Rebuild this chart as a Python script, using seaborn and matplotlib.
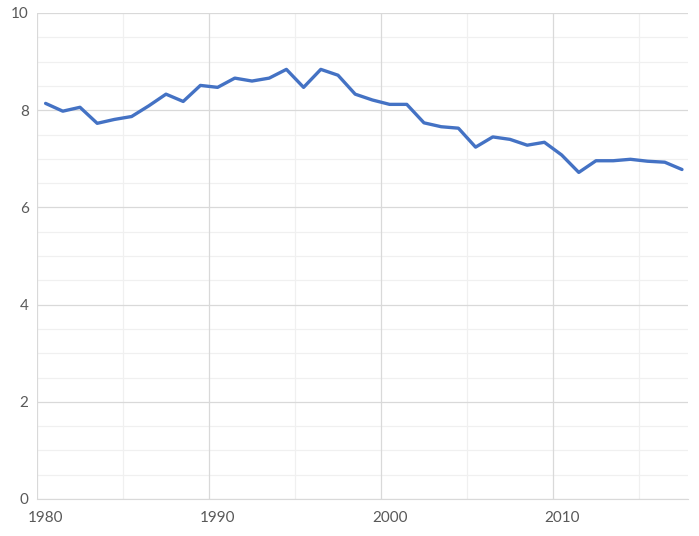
import numpy as np
import pandas as pd
import matplotlib.pyplot as plt
import seaborn as sns
from matplotlib.ticker import MultipleLocator, FixedLocator

# datos
anios = list(range(1980, 2018))
valores = [8.14, 7.98, 8.06, 7.73, 7.81, 7.87, 8.09, 8.33, 8.18, 8.51,
           8.47, 8.66, 8.60, 8.66, 8.84, 8.47, 8.84, 8.72, 8.33, 8.21,
           8.12, 8.12, 7.74, 7.66, 7.63, 7.24, 7.45, 7.40, 7.28, 7.34,
           7.08, 6.72, 6.96, 6.96, 6.99, 6.95, 6.93, 6.78]
etiquetas_x = [1980, 1990, 2000, 2010]

df = pd.DataFrame({'anio': anios, 'valor': valores})

sns.set_style('white')
plt.rcParams['font.family'] = ['Lato', 'DejaVu Sans']

fig = plt.figure(figsize=(6.99, 5.36), dpi=100)
ax = fig.add_axes([37 / 699, 1 - 499 / 536, (688 - 37) / 699, (499 - 13) / 536])

sns.lineplot(data=df, x='anio', y='valor', color='#4472C4', linewidth=2.4, ax=ax, zorder=5)

ax.set_xlim(1979.5, 2017.35)
ax.set_ylim(0, 10)

# rejilla: principal y secundaria
ax.yaxis.set_major_locator(MultipleLocator(2))
ax.yaxis.set_minor_locator(MultipleLocator(0.5))
ax.xaxis.set_major_locator(FixedLocator(etiquetas_x))
ax.xaxis.set_minor_locator(FixedLocator([1984.5, 1994.5, 2004.5, 2014.5]))
for xv in [1979.5, 1989.5, 1999.5, 2009.5]:
    ax.axvline(xv, color='#D9D9D9', linewidth=0.9, zorder=1)
ax.grid(which='major', axis='y', color='#D9D9D9', linewidth=0.9)
ax.grid(which='minor', color='#F0F0F0', linewidth=0.9)
ax.set_axisbelow(True)

ax.tick_params(which='both', length=0)
ax.tick_params(axis='y', labelsize=11, labelcolor='#595959', pad=6)
ax.tick_params(axis='x', labelsize=11, labelcolor='#595959', pad=9)
ax.set_xticklabels([str(a) for a in etiquetas_x])
ax.set_xlabel('')
ax.set_ylabel('')

for s in ['top', 'right', 'left']:
    ax.spines[s].set_visible(False)
ax.spines['bottom'].set_color('#D9D9D9')

fig.savefig('out.png', dpi=100)
